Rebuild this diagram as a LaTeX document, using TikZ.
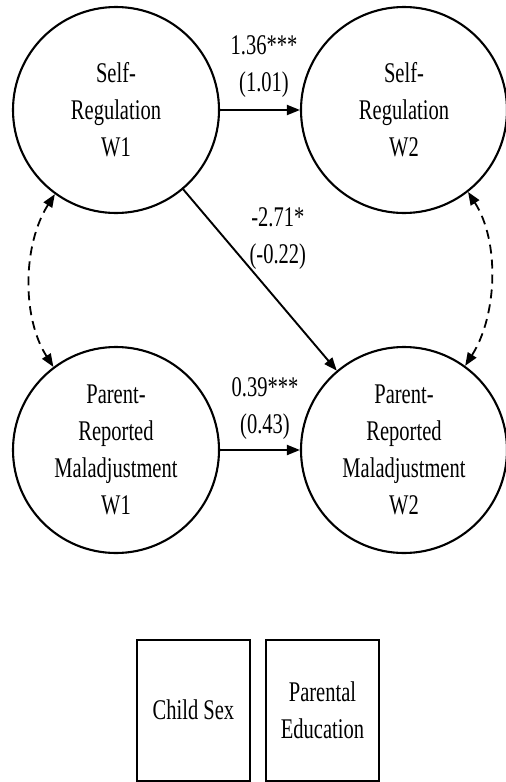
\documentclass[tikz,border=0pt]{standalone}
\usepackage{fontspec}
\setmainfont{Liberation Serif}[FakeStretch=0.72]
\usepackage{tikz}
\usetikzlibrary{arrows.meta,positioning}

\begin{document}
\begin{tikzpicture}[x=1pt,y=-1pt,
          latent/.style={draw,circle,line width=2.1pt,minimum size=206pt,inner sep=0pt,align=center,font=\fontsize{28.5}{37}\selectfont},
          obs/.style={draw,rectangle,line width=2pt,minimum width=113pt,minimum height=141pt,inner sep=0pt,align=center,font=\fontsize{28.5}{37}\selectfont},
          reg/.style={line width=1.9pt,-{Triangle[length=13pt,width=10pt]}},
          cov/.style={line width=1.8pt,dash pattern=on 9pt off 6pt,{Triangle[length=13pt,width=10pt]}-{Triangle[length=13pt,width=10pt]}},
          lbl/.style={font=\fontsize{28.5}{37}\selectfont,align=center,inner sep=2pt}]
        \useasboundingbox (0,0) rectangle (506,782);
        \node[latent] (sr1) at (116,110) {Self-\\Regulation\\W1};
        \node[latent] (sr2) at (404,110) {Self-\\Regulation\\W2};
        \node[latent] (pm1) at (116,450) {Parent-\\Reported\\Maladjustment\\W1};
        \node[latent] (pm2) at (404,450) {Parent-\\Reported\\Maladjustment\\W2};
        \node[obs] (sex) at (193.5,710) {Child Sex};
        \node[obs] (edu) at (322.5,710) {Parental\\Education};
        \draw[reg] (sr1) -- (sr2) node[lbl,midway,above=9pt,xshift=4pt]{1.36***\\(1.01)};
        \draw[reg] (pm1) -- (pm2) node[lbl,midway,above=7pt,xshift=5pt]{0.39***\\(0.43)};
        \draw[reg] (sr1) -- (pm2) node[lbl,pos=0.27,right=22pt]{-2.71*\\(-0.22)};
        \draw[cov] (sr1.234) .. controls +(-32,50) and +(-32,-50) .. (pm1.127);
        \draw[cov] (sr2.308) .. controls +(32,50) and +(32,-50) .. (pm2.54);
      \end{tikzpicture}
\end{document}
